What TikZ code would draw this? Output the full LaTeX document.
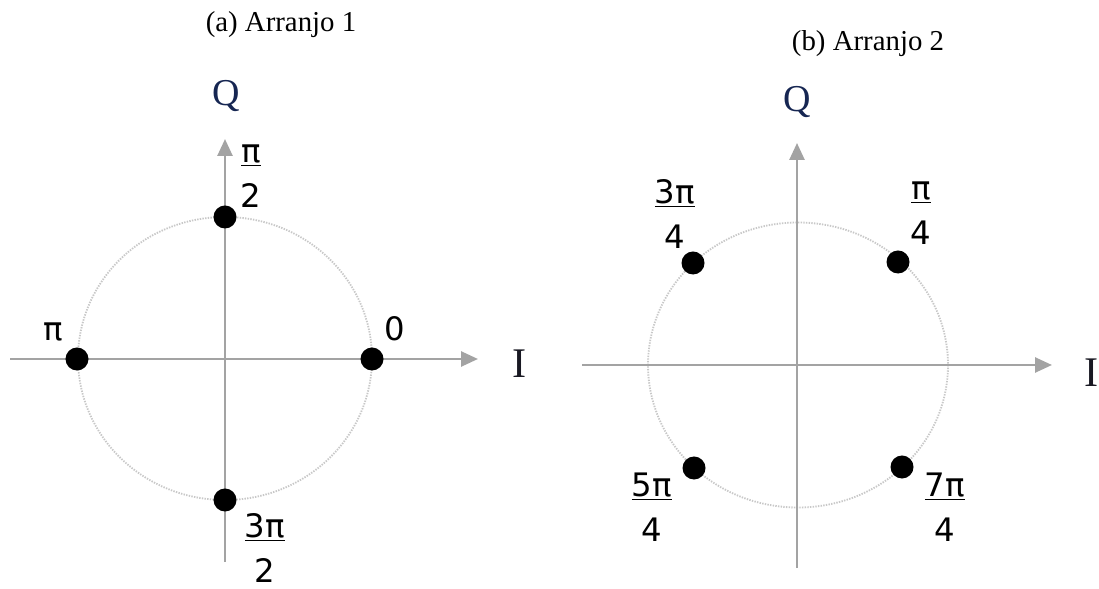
\documentclass[tikz,border=0pt]{standalone}
\usepackage{fontspec}
\setmainfont{Liberation Serif}
\newfontfamily\phasefont{DejaVu Sans}
\usetikzlibrary{arrows.meta,positioning}
\definecolor{axgray}{RGB}{163,163,163}
\definecolor{ringgray}{RGB}{200,200,200}
\definecolor{qblue}{RGB}{22,38,82}
\definecolor{idark}{RGB}{25,25,35}

\begin{document}
\begin{tikzpicture}[x=0.025cm,y=-0.025cm,
    axis/.style={draw=axgray,line width=1.9pt,
                 -{Triangle[length=0.42cm,width=0.37cm,fill=axgray]}},
    ring/.style={draw=ringgray,line width=1.3pt,dash pattern=on 1pt off 0.9pt},
    symb/.style={circle,fill=black,minimum size=0.575cm,inner sep=0pt},
    phase/.style={font=\phasefont\fontsize{23}{32}\selectfont,
                  align=center,inner sep=0pt},
    qlabel/.style={font=\fontsize{27}{32}\selectfont,inner sep=0pt,anchor=base},
    ilabel/.style={font=\fontsize{30}{36}\selectfont,inner sep=0pt,anchor=base},
    caption/.style={font=\fontsize{20.5}{24}\selectfont,inner sep=0pt,anchor=base}]
  \useasboundingbox (0,0) rectangle (1099,589);

  % (a) Arranjo 1
  \node[caption] (capa) at (281,32) {(a) Arranjo 1};
  \coordinate (oa) at (225,358.5);
  \coordinate (ia0) at (10,359);
  \coordinate (ia1) at (478,359);
  \coordinate (qa0) at (225,562);
  \coordinate (qa1) at (225,139);
  \draw[ring] (oa) ellipse [x radius=147,y radius=141.5];
  \draw[axis] (ia0) -- (ia1);
  \draw[axis] (qa0) -- (qa1);
  \node[qlabel,text=qblue] (qa) at (226,106) {Q};
  \node[ilabel,text=idark] (ia) at (520,378) {I};
  \node[symb] (a0) at (372,359) {};
  \node[symb] (a1) at (225,217) {};
  \node[symb] (a2) at (77,359) {};
  \node[symb] (a3) at (225,500) {};
  \node[phase] (la0) at (395,329) {0};
  \node[phase] (la1) at (251,176) {\underline{π}\\2};
  \node[phase] (la2) at (53,332) {π};
  \node[phase] (la3) at (265,548) {\underline{3π}\\2};

  % (b) Arranjo 2
  \node[caption] (capb) at (868,51) {(b) Arranjo 2};
  \coordinate (ob) at (798,365);
  \coordinate (ib0) at (582,365);
  \coordinate (ib1) at (1052,365);
  \coordinate (qb0) at (797,568);
  \coordinate (qb1) at (797,143);
  \draw[ring] (ob) ellipse [x radius=150,y radius=142.5];
  \draw[axis] (ib0) -- (ib1);
  \draw[axis] (qb0) -- (qb1);
  \node[qlabel,text=qblue] (qb) at (797,112) {Q};
  \node[ilabel,text=idark] (ib) at (1092,387) {I};
  \node[symb] (b1) at (898,262) {};
  \node[symb] (b3) at (693,263) {};
  \node[symb] (b5) at (694,468) {};
  \node[symb] (b7) at (902,467) {};
  \node[phase] (lb1) at (921,213) {\underline{π}\\4};
  \node[phase] (lb3) at (675,214) {\underline{3π}\\4};
  \node[phase] (lb5) at (652,507) {\underline{5π}\\4};
  \node[phase] (lb7) at (945,507) {\underline{7π}\\4};
\end{tikzpicture}
\end{document}
